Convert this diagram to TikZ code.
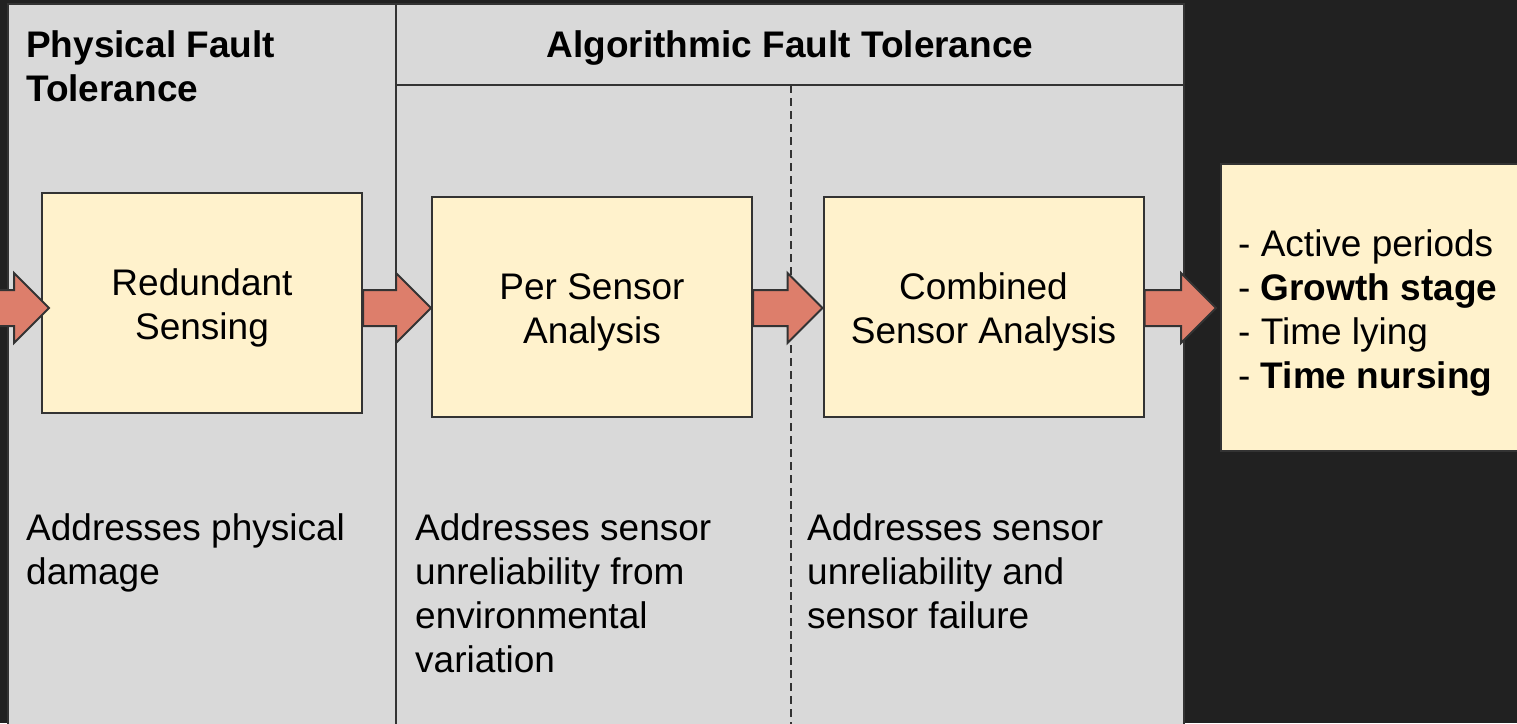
\documentclass[tikz,border=0pt]{standalone}
\usepackage{fontspec}
\setmainfont{Liberation Sans}
\usetikzlibrary{calc}
\definecolor{bg}{HTML}{212121}
\definecolor{panel}{HTML}{D9D9D9}
\definecolor{edge}{HTML}{333333}
\definecolor{boxfill}{HTML}{FFF2CC}
\definecolor{arrowfill}{HTML}{DD7E6B}
\newcommand\blockarrow[2]{\draw[blockarr] let \p1=(#1), \p2=(#2) in
  (\x1,-290pt) -- (\x2-35pt,-290pt) -- (\x2-35pt,-273pt) -- (\x2,-308pt)
  -- (\x2-35pt,-343pt) -- (\x2-35pt,-326pt) -- (\x1,-326pt) -- cycle;}
\begin{document}
\begin{tikzpicture}[x=1pt,y=-1pt,
  font=\fontsize{37}{44}\selectfont,
  panelline/.style={draw=edge, line width=2pt},
  stage/.style={draw=edge, fill=boxfill, line width=2pt, minimum width=320pt,
    minimum height=220pt, align=center, inner sep=0pt,
    execute at begin node={\rule{0pt}{81pt}}},
  outbox/.style={draw=edge, fill=boxfill, line width=2pt, inner sep=0pt},
  label/.style={inner sep=0pt, align=left, anchor=north west},
  heading/.style={font=\fontsize{37}{44}\selectfont\bfseries},
  blockarr/.style={draw=edge, fill=arrowfill, line width=2pt, line join=miter}]
\useasboundingbox (0,0) rectangle (1517,723);
\fill[bg] (0,0) rectangle (1517,723);
% panels
\draw[panelline, fill=panel] (8,4) rectangle (1184,740);
\draw[panelline] (396,4) -- (396,740);
\draw[panelline] (396,85) -- (1184,85);
\draw[panelline, dash pattern=on 8pt off 5pt] (791,85) -- (791,740);
% headings
\node[label, heading] (hphys) at (26,30) {Physical Fault\\Tolerance};
\node[heading, inner sep=0pt, anchor=base] (halg) at (790,57) {Algorithmic Fault Tolerance};
% stages
\node[stage] (b1) at (202,303) {Redundant\\Sensing};
\node[stage] (b2) at (592,307) {Per Sensor\\Analysis};
\node[stage] (b3) at (983.5,307) {Combined\\Sensor Analysis};
\node[outbox, minimum width=310pt, minimum height=287pt] (out) at (1376,307.5) {};
\node[label] (outlist) at (1238,229) {- Active periods\\- \textbf{Growth stage}\\- Time lying\\- \textbf{Time nursing}};
% descriptions
\node[label] (d1) at (26,513) {Addresses physical\\damage};
\node[label] (d2) at (415,513) {Addresses sensor\\unreliability from\\environmental\\variation};
\node[label] (d3) at (807,513) {Addresses sensor\\unreliability and\\sensor failure};
% arrows
\coordinate (src) at (-20,308);
\blockarrow{src}{[xshift=8pt]b1.west}
\blockarrow{b1.east}{b2.west}
\blockarrow{b2.east}{b3.west}
\blockarrow{b3.east}{[xshift=-4pt]out.west}
\end{tikzpicture}
\end{document}
